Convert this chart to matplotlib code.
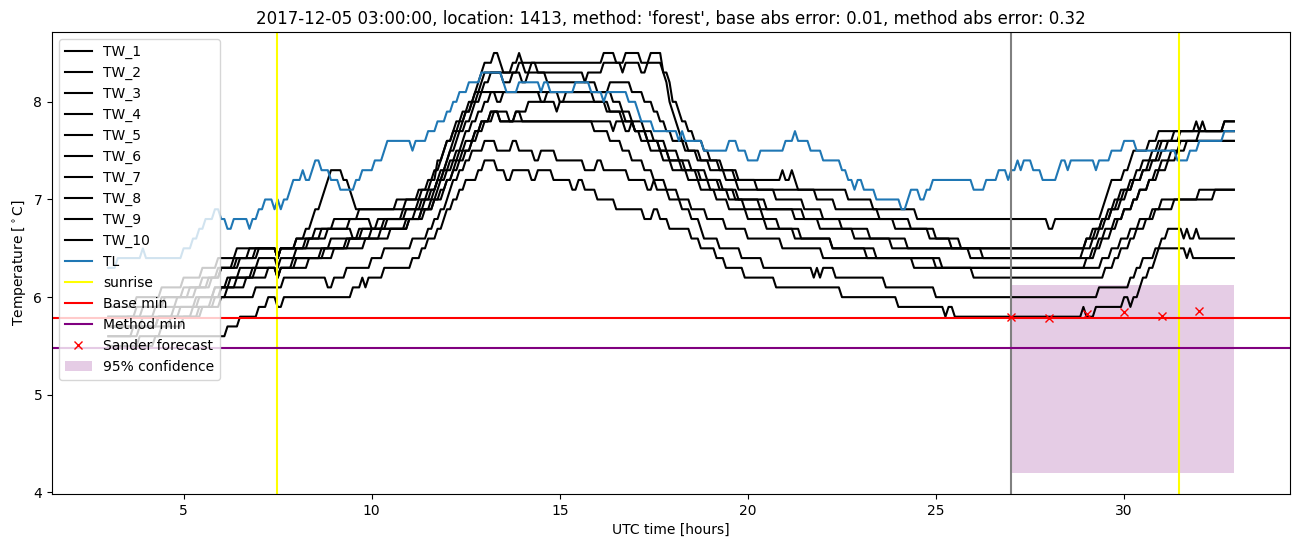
import numpy as np
import matplotlib
matplotlib.use('Agg')
import matplotlib.pyplot as plt

# time axis: 5 minute samples, hours (UTC) since start of day
t = 3 + np.arange(360) / 12

# temperatures as (hour, value) change points, value holds until next change
tw1 = [(3.0,5.9),(3.7,6.0),(4.4,6.1),(5.0,6.2),(5.5,6.3),(5.9,6.4),(6.4,6.5),(7.45,6.4),(7.55,6.5),(8.0,6.6),(8.2,6.7),(8.35,6.8),(8.5,6.9),(8.6,7.0),(8.7,7.1),(8.8,7.2),(8.9,7.3),(9.25,7.2),(9.35,7.1),(9.45,7.0),(9.55,6.9),(10.9,7.0),(11.3,7.1),(11.55,7.2),(11.7,7.4),(11.85,7.5),(11.95,7.6),(12.1,7.7),(12.25,7.8),(12.4,7.9),(12.55,8.0),(12.7,8.1),(12.8,8.2),(12.9,8.3),(13.0,8.4),(13.25,8.5),(13.35,8.4),(13.5,8.3),(13.75,8.4),(13.85,8.5),(13.95,8.4),(14.05,8.3),(14.25,8.4),(16.1,8.5),(16.5,8.4),(16.7,8.5),(17.1,8.4),(17.35,8.5),(17.7,8.4),(17.75,8.3),(17.8,8.2),(17.85,8.1),(17.9,8.0),(17.98,7.9),(18.06,7.8),(18.15,7.7),(18.25,7.6),(18.4,7.5),(18.75,7.4),(19.2,7.3),(19.6,7.2),(20.9,7.3),(21.0,7.2),(21.1,7.3),(21.2,7.2),(21.3,7.1),(22.6,7.0),(23.3,6.9),(24.5,6.8),(28.0,6.7),(28.1,6.8),(29.35,6.9),(29.45,7.0),(29.55,7.1),(29.65,7.2),(29.95,7.3),(30.1,7.4),(30.2,7.5),(30.6,7.6),(30.85,7.7),(31.85,7.8),(31.95,7.7),(32.05,7.8),(32.15,7.7)]
tw2 = [(3.0,5.8),(3.9,5.9),(4.5,6.0),(5.1,6.1),(5.6,6.2),(5.95,6.3),(6.3,6.4),(6.7,6.5),(7.45,6.4),(7.55,6.5),(8.3,6.6),(8.6,6.7),(9.0,6.8),(9.6,6.9),(10.6,7.0),(11.2,7.1),(11.5,7.2),(11.65,7.3),(11.8,7.4),(11.9,7.5),(12.0,7.6),(12.15,7.7),(12.3,7.8),(12.45,7.9),(12.6,8.0),(12.72,8.1),(12.85,8.2),(12.95,8.3),(13.5,8.2),(13.7,8.3),(13.9,8.4),(14.4,8.3),(15.6,8.2),(15.75,8.3),(16.15,8.4),(16.6,8.3),(16.75,8.4),(17.1,8.3),(17.3,8.4),(17.75,8.3),(17.85,8.2),(17.92,8.1),(18.0,8.0),(18.1,7.9),(18.2,7.8),(18.35,7.7),(18.55,7.6),(18.8,7.5),(19.0,7.4),(19.3,7.3),(19.7,7.2),(20.2,7.1),(21.8,7.0),(22.3,6.9),(23.5,6.8),(24.3,6.7),(25.0,6.6),(25.6,6.5),(29.0,6.6),(29.15,6.7),(29.4,6.8),(29.55,6.9),(29.7,7.0),(29.9,7.1),(30.1,7.2),(30.3,7.3),(30.5,7.4),(30.7,7.5),(30.9,7.6),(31.3,7.7),(32.6,7.8)]
tw3 = [(3.0,5.7),(3.5,5.8),(4.2,5.9),(4.8,6.0),(5.3,6.1),(5.7,6.2),(6.0,6.3),(6.5,6.4),(7.0,6.5),(7.45,6.4),(7.55,6.5),(8.0,6.6),(8.5,6.7),(9.4,6.8),(10.0,6.7),(10.1,6.8),(10.9,6.9),(11.3,7.0),(11.55,7.1),(11.7,7.2),(11.82,7.3),(11.92,7.4),(12.02,7.5),(12.12,7.6),(12.22,7.7),(12.35,7.8),(12.5,7.9),(12.62,8.0),(12.8,8.1),(12.95,8.2),(13.1,8.3),(14.0,8.2),(14.1,8.3),(14.6,8.2),(16.0,8.1),(16.3,8.2),(16.9,8.1),(17.2,8.0),(17.45,7.9),(17.6,7.8),(17.8,7.7),(18.0,7.6),(18.3,7.5),(18.6,7.4),(19.0,7.3),(19.4,7.2),(19.7,7.1),(20.7,7.0),(21.5,6.9),(22.0,6.8),(23.9,6.7),(24.8,6.6),(25.4,6.5),(29.1,6.6),(29.3,6.7),(29.45,6.8),(29.6,6.9),(29.8,7.0),(30.0,7.1),(30.25,7.2),(30.45,7.3),(30.65,7.4),(30.85,7.5),(31.0,7.6)]
tw4 = [(3.0,5.6),(3.6,5.7),(4.3,5.8),(4.9,5.9),(5.4,6.0),(5.8,6.1),(6.1,6.2),(6.5,6.3),(7.0,6.4),(7.45,6.3),(7.55,6.4),(8.0,6.5),(8.9,6.6),(9.7,6.7),(10.4,6.8),(11.1,6.9),(11.4,7.0),(11.6,7.1),(11.75,7.2),(11.88,7.3),(11.98,7.4),(12.08,7.5),(12.18,7.6),(12.3,7.7),(12.45,7.8),(12.6,7.9),(12.75,8.0),(12.9,8.1),(13.3,8.0),(13.5,8.1),(15.0,8.0),(15.15,8.1),(16.4,8.0),(16.6,7.9),(16.9,7.8),(17.2,7.7),(17.5,7.6),(17.8,7.5),(18.1,7.4),(18.5,7.3),(18.9,7.2),(19.3,7.1),(19.7,7.0),(20.3,6.9),(21.5,6.8),(22.5,6.7),(23.2,6.6),(24.2,6.5),(25.9,6.4),(28.85,6.5),(29.0,6.6),(29.2,6.7),(29.4,6.8),(29.65,6.9),(29.85,7.0),(30.05,7.1),(30.25,7.2),(30.45,7.3),(30.7,7.4),(30.95,7.5),(31.15,7.6),(31.5,7.7)]
tw5 = [(3.0,5.5),(3.8,5.6),(4.4,5.7),(5.0,5.8),(5.5,5.9),(5.8,6.0),(6.1,6.1),(6.4,6.2),(6.9,6.3),(7.45,6.2),(7.55,6.3),(7.9,6.4),(8.6,6.5),(9.3,6.6),(10.0,6.7),(10.9,6.8),(11.3,6.9),(11.55,7.0),(11.7,7.1),(11.82,7.2),(11.95,7.3),(12.05,7.4),(12.2,7.5),(12.35,7.6),(12.5,7.7),(12.65,7.8),(12.8,7.9),(12.95,8.0),(13.1,8.1),(14.5,8.0),(14.65,8.1),(15.9,8.0),(16.3,7.9),(16.7,7.8),(17.0,7.7),(17.3,7.6),(17.6,7.5),(17.9,7.4),(18.2,7.3),(18.6,7.2),(19.2,7.1),(19.6,7.0),(20.5,6.9),(21.2,6.8),(21.9,6.7),(22.8,6.6),(23.8,6.5),(26.2,6.4),(29.1,6.5),(29.3,6.6),(29.5,6.7),(29.75,6.8),(29.95,6.9),(30.2,7.0),(30.4,7.1),(30.6,7.2),(30.85,7.3),(31.1,7.4),(31.35,7.5),(31.6,7.6),(32.0,7.7),(32.6,7.8)]
tw6 = [(3.0,5.6),(3.8,5.7),(4.6,5.8),(5.2,5.9),(5.7,6.0),(6.0,6.1),(6.6,6.2),(7.2,6.3),(7.45,6.2),(7.55,6.3),(8.3,6.4),(9.0,6.5),(9.8,6.6),(10.5,6.7),(11.0,6.8),(11.3,6.9),(11.6,7.0),(11.8,7.1),(11.95,7.2),(12.1,7.3),(12.25,7.4),(12.4,7.5),(12.6,7.6),(12.75,7.7),(12.9,7.8),(13.1,7.9),(13.6,7.8),(13.8,7.9),(14.1,8.0),(14.9,7.9),(15.0,8.0),(16.2,7.9),(16.6,7.8),(17.0,7.7),(17.3,7.6),(17.6,7.5),(17.9,7.4),(18.3,7.3),(18.7,7.2),(19.0,7.1),(19.5,7.0),(19.9,6.9),(20.4,6.8),(20.8,6.7),(21.4,6.6),(22.2,6.5),(23.1,6.4),(25.1,6.3),(29.4,6.4),(29.6,6.5),(29.9,6.6),(30.15,6.7),(30.4,6.8),(30.7,6.9),(31.3,7.0),(32.4,7.1)]
tw7 = [(3.0,5.8),(3.7,5.9),(4.4,6.0),(5.0,6.1),(5.5,6.2),(5.9,6.3),(6.4,6.4),(6.9,6.5),(7.45,6.4),(7.55,6.5),(8.2,6.6),(8.8,6.7),(9.5,6.6),(9.6,6.7),(10.3,6.8),(10.8,6.9),(11.2,7.0),(11.5,7.1),(11.7,7.2),(11.9,7.3),(12.1,7.4),(12.3,7.5),(12.5,7.6),(12.7,7.7),(12.9,7.8),(13.1,7.9),(13.4,7.8),(13.8,7.9),(14.0,7.8),(16.4,7.7),(16.5,7.8),(16.75,7.7),(16.85,7.8),(16.95,7.7),(17.1,7.6),(17.4,7.5),(17.7,7.4),(18.0,7.3),(18.4,7.2),(18.7,7.1),(19.1,7.0),(19.5,6.9),(20.0,6.8),(20.5,6.7),(21.2,6.6),(22.2,6.5),(23.4,6.4),(24.4,6.3),(26.0,6.2),(29.5,6.3),(29.7,6.4),(29.9,6.5),(30.1,6.6),(30.3,6.7),(30.55,6.8),(30.8,6.9),(31.0,7.0),(32.0,7.1)]
tw8 = [(3.0,5.7),(3.9,5.8),(4.7,5.9),(5.3,6.0),(5.8,6.1),(6.2,6.2),(6.8,6.3),(7.45,6.2),(7.55,6.3),(8.0,6.4),(8.7,6.5),(9.4,6.6),(10.2,6.7),(11.0,6.8),(11.4,6.9),(11.65,7.0),(11.85,7.1),(12.0,7.2),(12.15,7.3),(12.3,7.4),(12.45,7.5),(12.65,7.6),(12.8,7.7),(13.0,7.8),(13.2,7.9),(13.4,7.8),(15.9,7.7),(16.3,7.6),(16.6,7.5),(16.9,7.4),(17.2,7.3),(17.5,7.2),(17.8,7.1),(18.1,7.0),(18.5,6.9),(18.9,6.8),(19.4,6.7),(20.0,6.6),(20.9,6.5),(22.0,6.4),(25.0,6.3),(29.0,6.4),(29.2,6.5),(29.4,6.6),(29.6,6.7),(29.8,6.8),(30.0,6.9),(30.2,7.0),(30.4,7.1),(30.6,7.2),(30.8,7.3),(31.0,7.4),(31.25,7.5),(31.5,7.6)]
tw9 = [(3.0,5.7),(4.3,5.8),(5.4,5.9),(6.0,6.0),(6.9,6.1),(7.45,6.2),(7.5,6.1),(7.6,6.2),(8.8,6.1),(8.95,6.2),(9.3,6.3),(9.95,6.4),(10.3,6.5),(11.05,6.6),(11.45,6.7),(11.6,6.8),(11.8,6.9),(11.95,7.0),(12.05,7.1),(12.15,7.2),(12.3,7.3),(12.45,7.4),(12.6,7.5),(12.95,7.6),(13.3,7.5),(13.7,7.6),(13.85,7.5),(14.3,7.4),(14.45,7.5),(14.9,7.4),(15.6,7.3),(16.0,7.4),(16.1,7.3),(16.8,7.2),(17.3,7.1),(17.45,7.2),(17.55,7.1),(17.9,7.0),(18.2,6.9),(18.5,6.8),(18.7,6.7),(18.83,6.6),(19.24,6.5),(19.8,6.4),(20.38,6.3),(21.75,6.2),(21.82,6.3),(21.9,6.2),(21.97,6.3),(22.33,6.2),(23.6,6.1),(24.93,6.0),(29.27,6.1),(30.1,6.2),(30.28,6.3),(30.45,6.4),(30.8,6.5),(31.65,6.4),(31.72,6.5),(31.8,6.4)]
tw10 = [(3.0,5.5),(4.2,5.6),(6.15,5.7),(6.5,5.8),(7.0,5.9),(7.2,6.0),(7.5,5.9),(7.6,6.0),(9.43,6.1),(9.7,6.2),(9.8,6.1),(9.9,6.2),(10.3,6.3),(11.05,6.4),(11.3,6.5),(11.45,6.6),(11.7,6.7),(11.85,6.8),(11.95,6.9),(12.1,7.0),(12.3,7.1),(12.5,7.2),(12.8,7.3),(12.95,7.4),(13.3,7.3),(13.55,7.2),(13.7,7.3),(14.2,7.2),(14.35,7.3),(14.8,7.2),(15.3,7.1),(15.5,7.2),(15.6,7.1),(16.0,7.0),(16.5,6.9),(17.2,6.8),(17.5,6.9),(17.6,6.8),(17.9,6.7),(18.5,6.6),(18.7,6.5),(19.15,6.4),(19.4,6.3),(19.85,6.2),(20.7,6.1),(22.5,6.0),(24.0,5.9),(25.25,5.8),(25.33,5.9),(25.42,5.8),(28.85,5.9),(28.95,5.8),(29.25,5.9),(30.0,6.0),(30.1,5.9),(30.2,6.0),(30.35,6.1),(30.5,6.2),(30.65,6.3),(30.8,6.4),(30.9,6.5),(31.0,6.6),(31.1,6.7),(31.55,6.6),(31.65,6.7),(31.75,6.6),(31.85,6.7),(31.95,6.6)]
tl = [(3.0,6.3),(3.2,6.4),(3.85,6.5),(3.95,6.4),(4.97,6.5),(5.23,6.6),(5.36,6.7),(5.53,6.8),(5.8,6.9),(5.93,6.8),(6.16,6.7),(6.29,6.8),(6.69,6.7),(6.78,6.8),(6.95,6.9),(7.13,7.0),(7.35,6.9),(7.44,7.0),(7.53,6.9),(7.62,7.0),(7.8,7.1),(7.88,7.2),(8.1,7.3),(8.23,7.2),(8.37,7.3),(8.5,7.4),(8.63,7.3),(8.85,7.2),(9.16,7.1),(9.56,7.2),(9.74,7.3),(10.05,7.4),(10.27,7.5),(10.4,7.6),(11.02,7.5),(11.1,7.6),(11.42,7.7),(11.68,7.8),(11.95,7.9),(12.12,8.0),(12.26,8.1),(12.56,8.2),(12.87,8.3),(13.45,8.2),(13.58,8.1),(13.85,8.2),(14.48,8.1),(14.56,8.2),(14.73,8.1),(15.35,8.2),(15.83,8.1),(16.14,8.0),(16.23,8.1),(16.8,8.0),(17.03,7.9),(17.16,7.8),(17.47,7.7),(18.09,7.6),(18.22,7.7),(18.3,7.6),(18.79,7.5),(19.5,7.6),(19.72,7.5),(19.99,7.4),(20.3,7.5),(20.96,7.6),(21.2,7.7),(21.31,7.6),(21.62,7.5),(21.97,7.4),(22.5,7.3),(22.6,7.2),(22.77,7.1),(22.88,7.2),(23.05,7.1),(23.39,7.0),(24.01,6.9),(24.2,7.0),(24.27,7.1),(24.54,7.0),(24.67,7.1),(24.89,7.2),(25.95,7.1),(26.3,7.2),(26.61,7.3),(26.88,7.2),(27.0,7.3),(27.15,7.4),(27.22,7.3),(27.32,7.4),(27.54,7.3),(27.76,7.2),(28.2,7.3),(28.29,7.4),(28.45,7.3),(28.57,7.4),(29.2,7.3),(29.3,7.4),(29.62,7.5),(29.93,7.6),(30.33,7.5),(31.34,7.4),(31.69,7.5),(32.0,7.6),(32.6,7.7)]

sunrise = [7.48, 31.45]
forecast_start = 27
base_min = 5.79
method_min = 5.48
fc_hours = [27, 28, 29, 30, 31, 32]
fc_temp = [5.80, 5.79, 5.83, 5.85, 5.81, 5.86]
conf_hours = [27, 32.92]
conf_low = [4.2, 4.2]
conf_high = [6.12, 6.12]


def expand(changes):
    ct = np.array([c[0] for c in changes])
    cv = np.array([c[1] for c in changes])
    idx = np.searchsorted(ct, t + 1e-9, side='right') - 1
    return cv[np.clip(idx, 0, None)]


fig, ax = plt.subplots(figsize=(13.02, 5.47), dpi=100)
fig.subplots_adjust(left=0.04, right=0.991, top=0.9415, bottom=0.097)

tw = [tw1, tw2, tw3, tw4, tw5, tw6, tw7, tw8, tw9, tw10]
for i, s in enumerate(tw):
    ax.plot(t, expand(s), color='black', label='TW_%d' % (i + 1))
ax.plot(t, expand(tl), label='TL')
ax.axvline(sunrise[0], color='yellow', label='sunrise')
ax.axvline(sunrise[1], color='yellow')
ax.axvline(forecast_start, color='grey')
ax.axhline(base_min, color='red', label='Base min')
ax.axhline(method_min, color='purple', label='Method min')
ax.plot(fc_hours, fc_temp, 'rx', label='Sander forecast')
ax.fill_between(conf_hours, conf_low, conf_high, color='purple', alpha=0.2,
                linewidth=0, label='95% confidence')

ax.set_title("2017-12-05 03:00:00, location: 1413, method: 'forest', "
             "base abs error: 0.01, method abs error: 0.32")
ax.set_xlabel('UTC time [hours]')
ax.set_ylabel(r'Temperature [$^\circ$C]')
ax.legend(loc='upper left')

fig.savefig('out.png')
